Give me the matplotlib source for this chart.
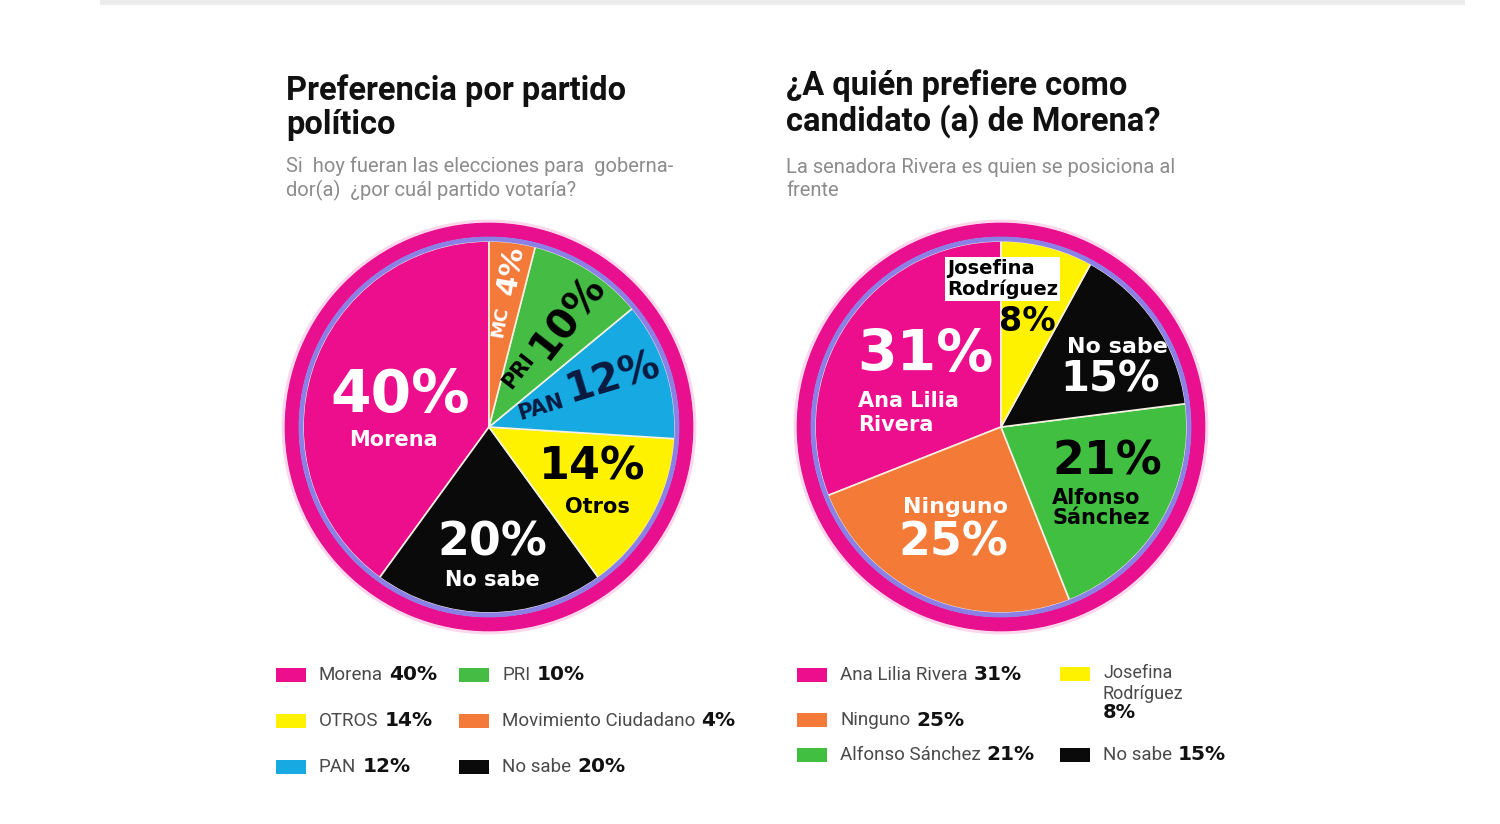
import matplotlib
matplotlib.use("Agg")
import matplotlib.pyplot as plt
from matplotlib.patches import Rectangle, Wedge, Circle

W, H = 1500, 824

# --- data -------------------------------------------------------------
party_names = ['Morena', 'No sabe', 'Otros', 'PAN', 'PRI', 'MC']
party_legend_names = ['Morena', 'No sabe', 'OTROS', 'PAN', 'PRI', 'Movimiento Ciudadano']
party_values = [40, 20, 14, 12, 10, 4]
party_colors = ['#EC0E8C', '#0a0a0a', '#FFF200', '#17A9E1', '#45BD45', '#F47A3A']
party_legend_order = [0, 2, 3, 4, 5, 1]

cand_names = ['Ana Lilia Rivera', 'Ninguno', 'Alfonso Sánchez', 'No sabe', 'Josefina Rodríguez']
cand_legend_names = ['Ana Lilia Rivera', 'Ninguno', 'Alfonso Sánchez', 'No sabe', 'Josefina\nRodríguez']
cand_values = [31, 25, 21, 15, 8]
cand_colors = ['#EC0E8C', '#F47A38', '#40BF40', '#0a0a0a', '#FFF200']
cand_legend_order = [0, 1, 2, 4, 3]

title_left = "Preferencia por partido\npolítico"
sub_left = "Si  hoy fueran las elecciones para  goberna-\ndor(a)  ¿por cuál partido votaría?"
title_right = "¿A quién prefiere como\ncandidato (a) de Morena?"
sub_right = "La senadora Rivera es quien se posiciona al\nfrente"

HEAVY = dict(family='DejaVu Sans', weight='bold')


def fx(px):
    return px / W


def fy(py):
    return 1 - py / H


fig = plt.figure(figsize=(15, 8.24), dpi=100)
fig.patch.set_facecolor('white')

# faint grey strip at the very top
fig.add_artist(Rectangle((fx(100), fy(5)), fx(1365), 5 / H, transform=fig.transFigure,
                         facecolor='#ececec', edgecolor='none'))


def draw_pie(cx, cy, values, colors):
    ax = fig.add_axes([fx(cx - 220), fy(cy + 220), 440 / W, 440 / H])
    ax.pie(values, colors=colors, startangle=90, counterclock=True, radius=0.93,
           wedgeprops=dict(edgecolor='#f4f0e2', linewidth=1.2))
    ax.set_xlim(-1.1, 1.1)
    ax.set_ylim(-1.1, 1.1)
    ax.set_aspect('equal')
    ax.axis('off')
    # outer ring: blue line + magenta band + soft halo
    ax.add_patch(Circle((0, 0), 1.03, facecolor='none', edgecolor='#f9c6e3', lw=2, alpha=0.7))
    ax.add_patch(Wedge((0, 0), 1.022, 0, 360, width=0.072, facecolor='#E8108F', edgecolor='none'))
    ax.add_patch(Wedge((0, 0), 0.952, 0, 360, width=0.024, facecolor='#8A80E6', edgecolor='none'))
    return ax


draw_pie(489, 427, party_values, party_colors)
draw_pie(1001, 427, cand_values, cand_colors)


def txt(px, py, s, size, color, rot=0, ha='center', va='center', font=HEAVY, ls=1.0, **kw):
    return fig.text(fx(px), fy(py), s, fontsize=size, color=color, rotation=rot,
                    rotation_mode='anchor', ha=ha, va=va, linespacing=ls, **font, **kw)


# --- left pie labels ---
v = dict(zip(party_names, party_values))
txt(400, 395, f"{v['Morena']}%", 42, 'white')
txt(393, 440, 'Morena', 15, 'white')
txt(492, 543, f"{v['No sabe']}%", 33, 'white')
txt(492, 580, 'No sabe', 15, 'white')
txt(592, 467, f"{v['Otros']}%", 32, 'black')
txt(597, 507, 'Otros', 15, 'black')
txt(541, 407, 'PAN', 15, '#0a1a40', rot=17)
txt(613, 378, f"{v['PAN']}%", 29, '#0a1a40', rot=17)
txt(518, 371, 'PRI', 15, 'black', rot=52)
txt(568, 317, f"{v['PRI']}%", 29, 'black', rot=52)
txt(500, 322, 'MC', 13, 'white', rot=80)
txt(511, 270, f"{v['MC']}%", 21, 'white', rot=80)

# --- right pie labels ---
c = dict(zip(cand_names, cand_values))
txt(857, 355, f"{c['Ana Lilia Rivera']}%", 41, 'white', ha='left')
txt(858, 413, 'Ana Lilia\nRivera', 15, 'white', ha='left', ls=1.2)
txt(947, 279, 'Josefina\nRodríguez', 14, 'black', ha='left', ls=1.1,
    bbox=dict(facecolor='white', edgecolor='none', pad=1.5))
txt(1027, 322, f"{c['Josefina Rodríguez']}%", 24, 'black')
txt(1117, 347, 'No sabe', 16, 'white')
txt(1110, 380, f"{c['No sabe']}%", 30, 'white')
txt(1052, 462, f"{c['Alfonso Sánchez']}%", 33, 'black', ha='left')
txt(1052, 508, 'Alfonso\nSánchez', 15, 'black', ha='left', ls=0.95)
txt(955, 507, 'Ninguno', 16, 'white')
txt(953, 543, f"{c['Ninguno']}%", 33, 'white')

# --- titles ---
TITLE = dict(family='Roboto', weight='bold')
SUB = dict(family='Roboto')
txt(286, 108, title_left, 23.5, '#111111', ha='left', font=TITLE, ls=1.08)
txt(286, 179, sub_left, 14.5, '#8c8c8c', ha='left', font=SUB, ls=1.25)
txt(786, 104, title_right, 23.5, '#111111', ha='left', font=TITLE, ls=1.08)
txt(786, 179, sub_right, 14.5, '#8c8c8c', ha='left', font=SUB, ls=1.25)

# --- legends ---
renderer = fig.canvas.get_renderer()
LAB = dict(family='Roboto')


def legend_item(sx, sy, color, label, value):
    lx = sx + 43
    fig.add_artist(Rectangle((fx(sx), fy(sy + 7)), 30 / W, 14 / H, transform=fig.transFigure,
                             facecolor=color, edgecolor='none'))
    if '\n' in label:
        txt(lx, sy - 10, label, 13, '#4a4a4a', ha='left', va='top', font=LAB, ls=1.2)
        txt(lx, sy + 39, f"{value}%", 14, '#111111', ha='left')
        return
    t = txt(lx, sy, label, 13.5, '#4a4a4a', ha='left', font=LAB)
    bb = t.get_window_extent(renderer)
    fig.text(bb.x1 / W + 6 / W, fy(sy), f"{value}%", fontsize=14.5, color='#111111',
             ha='left', va='center', **HEAVY)


left_pos = [(276, 675), (276, 721), (276, 767), (459, 675), (459, 721), (459, 767)]
for k, i in enumerate(party_legend_order):
    sx, sy = left_pos[k]
    legend_item(sx, sy, party_colors[i], party_legend_names[i], party_values[i])

right_pos = [(797, 675), (797, 720), (797, 755), (1060, 674), (1060, 755)]
for k, i in enumerate(cand_legend_order):
    sx, sy = right_pos[k]
    legend_item(sx, sy, cand_colors[i], cand_legend_names[i], cand_values[i])

fig.savefig('out.png', dpi=100, facecolor='white')
